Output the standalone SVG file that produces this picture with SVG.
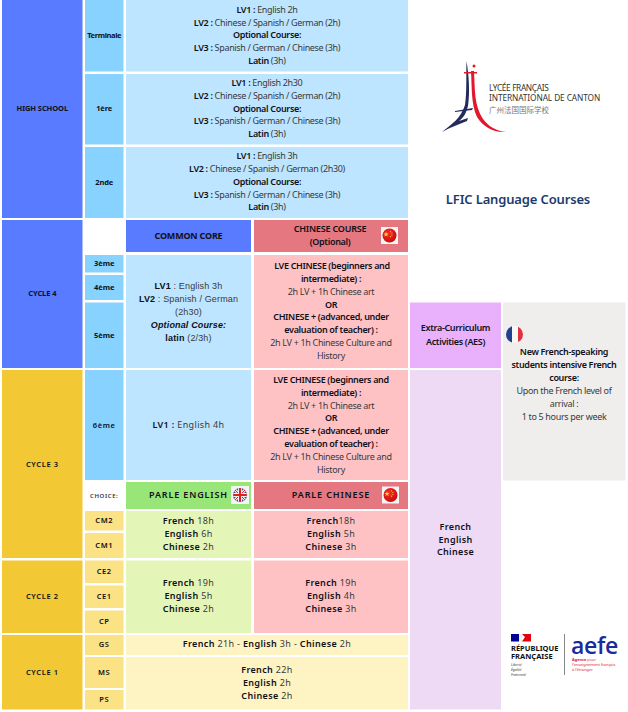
<svg xmlns="http://www.w3.org/2000/svg" width="628" height="712" viewBox="0 0 628 712">
<style>
text{font-family:"Noto Sans","Open Sans",sans-serif;font-size:9px;fill:#3a3a3a;text-anchor:middle;letter-spacing:-.33px}
.b{font-weight:600;fill:#101018}
.h{font-size:7.500px;font-weight:700;fill:#101018;letter-spacing:-.1px}
.s{letter-spacing:.35px}
.h.s{letter-spacing:.6px;font-weight:600}
.a{font-family:"Liberation Sans",Arial,sans-serif;letter-spacing:.15px}
.k{font-weight:700;letter-spacing:-.2px;fill:#101018}
.blue{fill:#597bff}.yel{fill:#f2c835}.lb{fill:#87d2ff}.pale{fill:#bde5ff}.ly{fill:#fae285}.cy{fill:#fef3c3}
.pink{fill:#ffc2c4}.red{fill:#e4777f}.grn{fill:#e3f6b8}
.l{text-anchor:start;letter-spacing:0}
</style>
<defs>
<radialGradient id="rf" cx=".4" cy=".35" r=".7"><stop offset="0" stop-color="#f0302a"/><stop offset=".8" stop-color="#d80f0f"/><stop offset="1" stop-color="#a80808"/></radialGradient>
<clipPath id="cfr"><circle cx="514.500" cy="334.500" r="8.500"/></clipPath>
<clipPath id="cuk"><circle cx="240" cy="495" r="7"/></clipPath>
<g id="cn"><rect x="-8.500" y="-8.500" width="17" height="17" fill="#f4f4f4"/><circle r="7" fill="url(#rf)"/><path d="M-3.500-3.800l.7 1.800 1.900.1-1.500 1.200.5 1.800-1.600-1-1.600 1 .5-1.800-1.500-1.200 1.900-.1z" fill="#f7d23a"/><circle cx="1" cy="-4.200" r=".6" fill="#f7d23a"/><circle cx="2.400" cy="-2.500" r=".6" fill="#f7d23a"/><circle cx="2.400" cy="-.4" r=".6" fill="#f7d23a"/><circle cx="1" cy="1.200" r=".6" fill="#f7d23a"/></g>
</defs>
<rect width="628" height="712" fill="#fff"/>

<g id="high-school"><rect class="blue" x="2" y="0" width="80.500" height="218"/><text class="h" x="42.300" y="111">HIGH SCHOOL</text></g>
<g id="terminale"><rect class="lb" x="85" y="0" width="38.500" height="71.500"/><text class="h" x="104.200" y="38" style="letter-spacing:-.35px">Terminale</text></g>
<g id="terminale-courses"><rect class="pale" x="126" y="0" width="282" height="71.500"/>
<text x="267" y="13"><tspan class="b">LV1 :</tspan> English 2h</text>
<text x="267" y="26"><tspan class="b">LV2 :</tspan> Chinese / Spanish / German (2h)</text>
<text class="b" x="267" y="38">Optional Course:</text>
<text x="267" y="51"><tspan class="b">LV3 :</tspan> Spanish / German / Chinese (3h)</text>
<text x="267" y="64"><tspan class="b">Latin</tspan> (3h)</text></g>
<g id="premiere"><rect class="lb" x="85" y="74" width="38.500" height="70.500"/><text class="h" x="104.200" y="111">1ère</text></g>
<g id="premiere-courses"><rect class="pale" x="126" y="74" width="282" height="70.500"/>
<text x="267" y="86"><tspan class="b">LV1 :</tspan> English 2h30</text>
<text x="267" y="99"><tspan class="b">LV2 :</tspan> Chinese / Spanish / German (2h)</text>
<text class="b" x="267" y="112">Optional Course:</text>
<text x="267" y="124"><tspan class="b">LV3 :</tspan> Spanish / German / Chinese (3h)</text>
<text x="267" y="137"><tspan class="b">Latin</tspan> (3h)</text></g>
<g id="seconde"><rect class="lb" x="85" y="147" width="38.500" height="71"/><text class="h" x="104.200" y="185">2nde</text></g>
<g id="seconde-courses"><rect class="pale" x="126" y="147" width="282" height="71"/>
<text x="267" y="159"><tspan class="b">LV1 :</tspan> English 3h</text>
<text x="267" y="172"><tspan class="b">LV2 :</tspan> Chinese / Spanish / German (2h30)</text>
<text class="b" x="267" y="185">Optional Course:</text>
<text x="267" y="198"><tspan class="b">LV3 :</tspan> Spanish / German / Chinese (3h)</text>
<text x="267" y="210"><tspan class="b">Latin</tspan> (3h)</text></g>

<g id="cycle-4"><rect class="blue" x="2" y="220" width="80.500" height="148"/><text class="h" x="42.300" y="296">CYCLE 4</text></g>
<g id="common-core"><rect class="blue" x="126" y="220" width="125" height="32"/><text class="k" x="188.500" y="239">COMMON CORE</text></g>
<g id="chinese-course"><rect class="red" x="254" y="220" width="154" height="32"/>
<text class="k" x="330" y="232" style="font-weight:600">CHINESE COURSE</text><text class="b" x="330" y="245">(Optional)</text>
<use href="#cn" x="389.500" y="235.500"/></g>
<g id="troisieme"><rect class="lb" x="85" y="255" width="38.500" height="17.500"/><text class="h" x="104.200" y="266">3ème</text></g>
<g id="quatrieme"><rect class="lb" x="85" y="275" width="38.500" height="25"/><text class="h" x="104.200" y="290">4ème</text></g>
<g id="cinquieme"><rect class="lb" x="85" y="302.500" width="38.500" height="65.500"/><text class="h" x="104.200" y="338">5ème</text></g>
<g id="cycle-4-common"><rect class="pale" x="126" y="255" width="125" height="113"/>
<text class="a" x="188.500" y="289"><tspan class="b" font-weight="700">LV1</tspan> : English 3h</text>
<text class="a" x="188.500" y="302"><tspan class="b" font-weight="700">LV2</tspan> : Spanish / German</text>
<text class="a" x="188.500" y="315">(2h30)</text>
<text class="a b" x="188.500" y="328" font-style="italic" style="font-weight:700">Optional Course:</text>
<text class="a" x="188.500" y="341"><tspan class="b" style="font-weight:700">latin</tspan> (2/3h)</text></g>
<g id="cycle-4-chinese"><rect class="pink" x="254" y="255" width="154" height="113"/>
<text class="b" x="332" y="269">LVE CHINESE (beginners and</text>
<text class="b" x="331" y="282">intermediate) :</text>
<text x="331" y="295">2h LV + 1h Chinese art</text>
<text class="b" x="331" y="308">OR</text>
<text class="b" x="331" y="320">CHINESE + (advanced, under</text>
<text class="b" x="331" y="333">evaluation of teacher) :</text>
<text x="331" y="346">2h LV + 1h Chinese Culture and</text>
<text x="331" y="359">History</text></g>

<g id="cycle-3"><rect class="yel" x="2" y="370" width="80.500" height="188"/><text class="h s" x="42.300" y="467">CYCLE 3</text></g>
<g id="sixieme"><rect class="lb" x="85" y="370" width="38.500" height="110"/><text class="h s" x="104.200" y="428">6ème</text></g>
<g id="cycle-3-common"><rect class="pale" x="126" y="370" width="125" height="110"/>
<text class="s" x="188.500" y="428"><tspan class="b">LV1 :</tspan> English 4h</text></g>
<g id="cycle-3-chinese"><rect class="pink" x="254" y="370" width="154" height="110"/>
<text class="b" x="331" y="383">LVE CHINESE (beginners and</text>
<text class="b" x="331" y="396">intermediate) :</text>
<text x="331" y="409">2h LV + 1h Chinese art</text>
<text class="b" x="331" y="421">OR</text>
<text class="b" x="331" y="434">CHINESE + (advanced, under</text>
<text class="b" x="331" y="447">evaluation of teacher) :</text>
<text x="331" y="460">2h LV + 1h Chinese Culture and</text>
<text x="331" y="473">History</text></g>
<g id="choice"><text class="h s" x="104.200" y="497.500" style="font-size:6px;fill:#333">CHOICE:</text></g>
<g id="parle-english"><rect x="126" y="482" width="125" height="27" fill="#98e677"/><text class="b" x="188.500" y="498" style="letter-spacing:.85px">PARLE ENGLISH</text>
<rect x="231" y="486" width="18" height="18" fill="#f4f4f4"/>
<g clip-path="url(#cuk)"><rect x="233" y="488" width="14" height="14" fill="#3a4f9a"/><path d="M233 488l14 14M247 488l-14 14" stroke="#eee" stroke-width="3"/><path d="M233 488l14 14M247 488l-14 14" stroke="#d23" stroke-width="1"/><path d="M240 488v14M233 495h14" stroke="#eee" stroke-width="4"/><path d="M240 488v14M233 495h14" stroke="#d22" stroke-width="2"/></g></g>
<g id="parle-chinese"><rect class="red" x="254" y="482" width="154" height="27"/><text class="b" x="331" y="498" style="letter-spacing:.85px">PARLE CHINESE</text>
<use href="#cn" x="390.500" y="495"/></g>
<g id="cm2"><rect class="ly" x="85" y="511" width="38.500" height="19.500"/><text class="h s" x="104.200" y="523">CM2</text></g>
<g id="cm1"><rect class="ly" x="85" y="533" width="38.500" height="25"/><text class="h s" x="104.200" y="548">CM1</text></g>
<g id="cycle-3-english"><rect class="grn" x="126" y="511" width="125" height="47"/>
<text class="s" x="188.500" y="524"><tspan class="b">French</tspan> 18h</text>
<text class="s" x="188.500" y="537"><tspan class="b">English</tspan> 6h</text>
<text class="s" x="188.500" y="550"><tspan class="b">Chinese</tspan> 2h</text></g>
<g id="cycle-3-parle-chinese"><rect class="pink" x="254" y="511" width="154" height="47"/>
<text class="s" x="331" y="524"><tspan class="b">French</tspan>18h</text>
<text class="s" x="331" y="537"><tspan class="b">English</tspan> 5h</text>
<text class="s" x="331" y="550"><tspan class="b">Chinese</tspan> 3h</text></g>

<g id="cycle-2"><rect class="yel" x="2" y="560.500" width="80.500" height="72.500"/><text class="h s" x="42.300" y="599">CYCLE 2</text></g>
<g id="ce2"><rect class="ly" x="85" y="560.500" width="38.500" height="22.500"/><text class="h s" x="104.200" y="574">CE2</text></g>
<g id="ce1"><rect class="ly" x="85" y="585.500" width="38.500" height="22.500"/><text class="h s" x="104.200" y="599">CE1</text></g>
<g id="cp"><rect class="ly" x="85" y="610.500" width="38.500" height="22.500"/><text class="h s" x="104.200" y="624">CP</text></g>
<g id="cycle-2-english"><rect class="grn" x="126" y="560.500" width="125" height="72.500"/>
<text class="s" x="188.500" y="586"><tspan class="b">French</tspan> 19h</text>
<text class="s" x="188.500" y="599"><tspan class="b">English</tspan> 5h</text>
<text class="s" x="188.500" y="612"><tspan class="b">Chinese</tspan> 2h</text></g>
<g id="cycle-2-chinese"><rect class="pink" x="254" y="560.500" width="154" height="72.500"/>
<text class="s" x="331" y="586"><tspan class="b">French</tspan> 19h</text>
<text class="s" x="331" y="599"><tspan class="b">English</tspan> 4h</text>
<text class="s" x="331" y="612"><tspan class="b">Chinese</tspan> 3h</text></g>

<g id="cycle-1"><rect class="yel" x="2" y="635" width="80.500" height="74.500"/><text class="h s" x="42.300" y="675">CYCLE 1</text></g>
<g id="gs"><rect class="ly" x="85" y="635" width="38.500" height="20"/><text class="h s" x="104.200" y="647">GS</text></g>
<g id="ms"><rect class="ly" x="85" y="657" width="38.500" height="31"/><text class="h s" x="104.200" y="675">MS</text></g>
<g id="ps"><rect class="ly" x="85" y="690" width="38.500" height="19.500"/><text class="h s" x="104.200" y="702">PS</text></g>
<g id="gs-courses"><rect class="cy" x="126" y="635" width="282" height="20"/>
<text class="s" x="267" y="647"><tspan class="b">French</tspan> 21h - <tspan class="b">English</tspan> 3h - <tspan class="b">Chinese</tspan> 2h</text></g>
<g id="ms-ps-courses"><rect class="cy" x="126" y="657" width="282" height="52.500"/>
<text class="s" x="267" y="673"><tspan class="b">French</tspan> 22h</text>
<text class="s" x="267" y="686"><tspan class="b">English</tspan> 2h</text>
<text class="s" x="267" y="699"><tspan class="b">Chinese</tspan> 2h</text></g>

<g id="aes"><rect x="410" y="302.500" width="91" height="65.500" fill="#e9b0fb"/>
<text class="b" x="455.500" y="331">Extra-Curriculum</text><text class="b" x="455.500" y="345">Activities (AES)</text></g>
<g id="aes-languages"><rect x="410" y="370" width="91" height="339.500" fill="#efdaf6"/>
<text class="b s" x="455.500" y="530">French</text><text class="b s" x="455.500" y="543">English</text><text class="b s" x="455.500" y="555">Chinese</text></g>
<g id="french-course"><rect x="503" y="302.500" width="122.500" height="178" fill="#efeeed"/>
<g clip-path="url(#cfr)"><rect x="506" y="326" width="6" height="17" fill="#23408f"/><rect x="512" y="326" width="6" height="17" fill="#f7f7f7"/><rect x="518" y="326" width="6" height="17" fill="#e3303c"/></g>
<text class="b" x="564" y="355">New French-speaking</text>
<text class="b" x="564" y="368">students intensive French</text>
<text class="b" x="564" y="381">course:</text>
<text x="564" y="394">Upon the French level of</text>
<text x="564" y="407">arrival :</text>
<text x="564" y="420">1 to 5 hours per week</text></g>

<g id="lfic-logo">
<path d="M442 132C452 124 461 118 465 105C467 92 466 76 466.500 61C469 76 470 92 468 106C466 114 463 118 459 121L468 118L467 121C460 124 451 127 442 132Z" fill="#232b5c"/>
<path d="M455 111L473 108L472 110L455 112Z" fill="#232b5c"/>
<path d="M474 71C475 90 474 105 483 119C488 126 496 131 506 132C494 133 483 127 477 117C471 104 472 88 471 71Z" fill="#e2182c"/>
<path d="M464 72H477V73.500H464Z" fill="#e2182c"/><circle cx="474" cy="66" r="1.500" fill="#e2182c"/>
<text class="l" x="489" y="91" style="font-size:8.300px;letter-spacing:-.35px;fill:#333">LYCÉE FRANÇAIS</text>
<text class="l" x="489" y="101" style="font-size:8.300px;letter-spacing:-.1px;fill:#333">INTERNATIONAL DE CANTON</text>
<text class="l" x="489" y="113" style="font-size:7.500px;fill:#777;font-family:'Noto Sans CJK SC',sans-serif">广州法国国际学校</text>
</g>
<g id="title"><text x="518" y="204" style="font-size:13px;font-weight:600;fill:#1c3a6e;letter-spacing:-.15px">LFIC Language Courses</text></g>

<g id="rf-logo">
<rect x="511" y="634" width="8" height="7.500" fill="#000091"/><rect x="519" y="634" width="3" height="7.500" fill="#eee"/><path d="M522 634H531V641.500H522L525 637Z" fill="#e1000f"/>
<text class="l" x="511" y="651" style="font-size:7.500px;font-weight:700;fill:#111">RÉPUBLIQUE</text>
<text class="l" x="511" y="659" style="font-size:7.500px;font-weight:700;fill:#111">FRANÇAISE</text>
<text class="l" x="511" y="666" style="font-size:3.500px;font-style:italic">Liberté</text>
<text class="l" x="511" y="671" style="font-size:3.500px;font-style:italic">Égalité</text>
<text class="l" x="511" y="676" style="font-size:3.500px;font-style:italic">Fraternité</text>
<path d="M564.500 634V675" stroke="#555" stroke-width=".7"/>
</g>
<g id="aefe-logo">
<text class="l" x="571" y="654" style="font-size:23px;font-weight:600;fill:#1a2a9e;letter-spacing:-.3px;font-family:'Open Sans',sans-serif">aefe</text>
<text class="l" x="572" y="661" style="font-size:3.900px;fill:#e1203c"><tspan font-weight="700">Agence</tspan> pour</text>
<text class="l" x="572" y="666" style="font-size:3.900px;fill:#e1203c">l'enseignement français</text>
<text class="l" x="572" y="671" style="font-size:3.900px;fill:#e1203c">à l'étranger</text>
</g>
</svg>
